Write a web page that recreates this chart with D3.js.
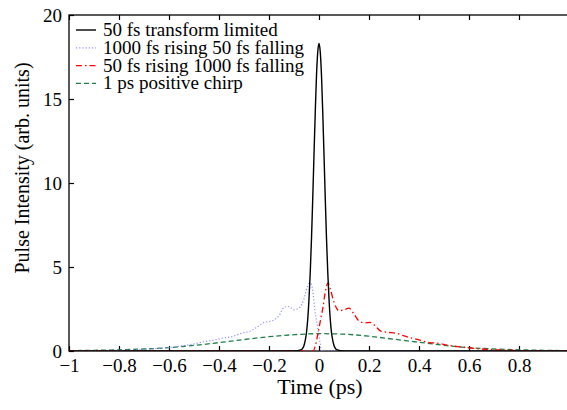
<!DOCTYPE html>
<html><head><meta charset="utf-8">
<script src="https://cdn.jsdelivr.net/npm/d3@7"></script>
<style>body{margin:0;background:#fff}svg{display:block}</style>
</head><body>
<script>
const xTicks = [-1,-0.8,-0.6,-0.4,-0.2,0,0.2,0.4,0.6,0.8,1];
const xTickLabels = ["\u22121","\u22120.8","\u22120.6","\u22120.4","\u22120.2","0","0.2","0.4","0.6","0.8",""];
const yTicks = [0,5,10,15,20];
const yTickLabels = ["0","5","10","15","20"];
const seriesNames = ["50 fs transform limited","1000 fs rising 50 fs falling","50 fs rising 1000 fs falling","1 ps positive chirp"];

const tlT = [-1,-0.1,-0.07,-0.065,-0.06,-0.055,-0.05,-0.045,-0.04,-0.035,-0.03,-0.025,-0.02,-0.015,-0.01,-0.005,0,0.005,0.01,0.015,0.02,0.025,0.03,0.035,0.04,0.045,0.05,0.055,0.06,0.065,0.07,0.1,1];
const tlY = [0,0,0.08,0.17,0.33,0.63,1.1,1.9,3.1,4.7,6.7,9.1,11.7,14.2,16.4,17.8,18.3,17.8,16.4,14.2,11.7,9.1,6.7,4.7,3.1,1.9,1.1,0.63,0.33,0.17,0.08,0,0];

const riseT = [-1,-0.9,-0.8,-0.75,-0.7,-0.65,-0.6,-0.55,-0.5,-0.46,-0.42,-0.38,-0.35,-0.32,-0.3,-0.28,-0.25,-0.22,-0.2,-0.18,-0.16,-0.14,-0.12,-0.1,-0.08,-0.06,-0.045,-0.035,-0.025,-0.017,-0.01,-0.004,0.004,0.01,0.02,0.1,1];
const riseY = [0.01,0.02,0.04,0.06,0.1,0.15,0.2,0.3,0.42,0.55,0.65,0.78,0.85,1.0,1.1,1.15,1.4,1.7,1.75,1.85,2.1,2.6,2.65,2.45,2.55,3.1,3.9,4.05,3.6,2.45,1.8,1.25,0.5,0.06,0,0,0];

const fallT = [-1,-0.1,-0.04,-0.024,-0.015,-0.004,0.008,0.016,0.025,0.036,0.045,0.06,0.08,0.1,0.12,0.14,0.163,0.185,0.205,0.225,0.245,0.27,0.31,0.34,0.376,0.41,0.443,0.47,0.52,0.563,0.62,0.67,0.75,0.85,0.95,1];
const fallY = [0,0,0,0,0.3,1.05,2.0,2.6,3.5,4.05,3.7,2.9,2.4,2.45,2.55,2.2,1.75,1.68,1.7,1.5,1.2,1.12,1.05,0.9,0.75,0.62,0.5,0.47,0.33,0.25,0.16,0.1,0.05,0.02,0.01,0.01];

const chT = [-1,-0.9,-0.8,-0.7,-0.6,-0.5,-0.4,-0.3,-0.2,-0.1,0,0.1,0.2,0.3,0.4,0.5,0.6,0.7,0.8,0.9,1];
const chY = [0.02,0.04,0.07,0.12,0.2,0.33,0.5,0.68,0.85,0.97,1.03,1.0,0.88,0.7,0.52,0.34,0.2,0.12,0.07,0.04,0.02];

const FONT = '"Liberation Serif"';
const W = 567, H = 410;
const svg = d3.select("body").append("svg").attr("width", W).attr("height", H);
const x = d3.scaleLinear().domain([-1, 1]).range([69, 569]);
const y = d3.scaleLinear().domain([0, 20]).range([351, 15]);

svg.append("rect").attr("x", x(-1)).attr("y", y(20)).attr("width", x(1) - x(-1)).attr("height", y(0) - y(20))
  .attr("fill", "none").attr("stroke", "#000").attr("stroke-width", 1.3);

const gx = svg.append("g").attr("transform", `translate(0,${y(0)})`)
  .call(d3.axisBottom(x).tickValues(xTicks).tickSize(-5).tickPadding(8).tickFormat((d, i) => xTickLabels[i]));
const gxt = svg.append("g").attr("transform", `translate(0,${y(20)})`)
  .call(d3.axisTop(x).tickValues(xTicks).tickSize(-5).tickFormat(""));
const gy = svg.append("g").attr("transform", `translate(${x(-1)},0)`)
  .call(d3.axisLeft(y).tickValues(yTicks).tickSize(-5).tickPadding(7).tickFormat((d, i) => yTickLabels[i]));
[gx, gxt, gy].forEach(g => {
  g.attr("font-family", null);
  g.select(".domain").remove();
  g.selectAll("line").attr("stroke", "#000").attr("stroke-width", 1.2);
  g.selectAll("text").style("font-family", FONT).style("font-size", "19px").attr("fill", "#000");
});

svg.append("text").attr("x", 320).attr("y", 394).attr("text-anchor", "middle")
  .style("font-family", FONT).style("font-size", "22px").text("Time (ps)");
svg.append("text").attr("transform", "translate(29,168) rotate(-90)").attr("text-anchor", "middle")
  .style("font-family", FONT).style("font-size", "20px").text("Pulse Intensity (arb. units)");

svg.append("clipPath").attr("id", "c").append("rect")
  .attr("x", x(-1)).attr("y", y(20)).attr("width", x(1) - x(-1)).attr("height", y(0) - y(20));

const line = d3.line().curve(d3.curveMonotoneX);
const styles = [
  {t: tlT, v: tlY, color: "#000", dash: null, w: 1.4},
  {t: riseT, v: riseY, color: "#8f8fff", dash: "1.2,2", w: 1.2},
  {t: fallT, v: fallY, color: "#ff0000", dash: "6,3,1.5,3", w: 1.3},
  {t: chT, v: chY, color: "#1e7f4a", dash: "5,3", w: 1.3}
];
const plot = svg.append("g").attr("clip-path", "url(#c)");
[3,1,2,0].forEach(i => {
  const s = styles[i];
  plot.append("path").attr("d", line(s.t.map((t, k) => [x(t), y(s.v[k])])))
    .attr("fill", "none").attr("stroke", s.color).attr("stroke-width", s.w)
    .attr("stroke-dasharray", s.dash);
});

const lg = svg.append("g");
seriesNames.forEach((n, i) => {
  const yy = 30 + i * 17.8;
  const s = styles[i];
  lg.append("line").attr("x1", 76).attr("x2", 96).attr("y1", yy).attr("y2", yy)
    .attr("stroke", s.color).attr("stroke-width", s.w).attr("stroke-dasharray", s.dash);
  lg.append("text").attr("x", 103).attr("y", yy + 6)
    .style("font-family", FONT).style("font-size", "19px").text(n);
});
</script>
</body></html>
